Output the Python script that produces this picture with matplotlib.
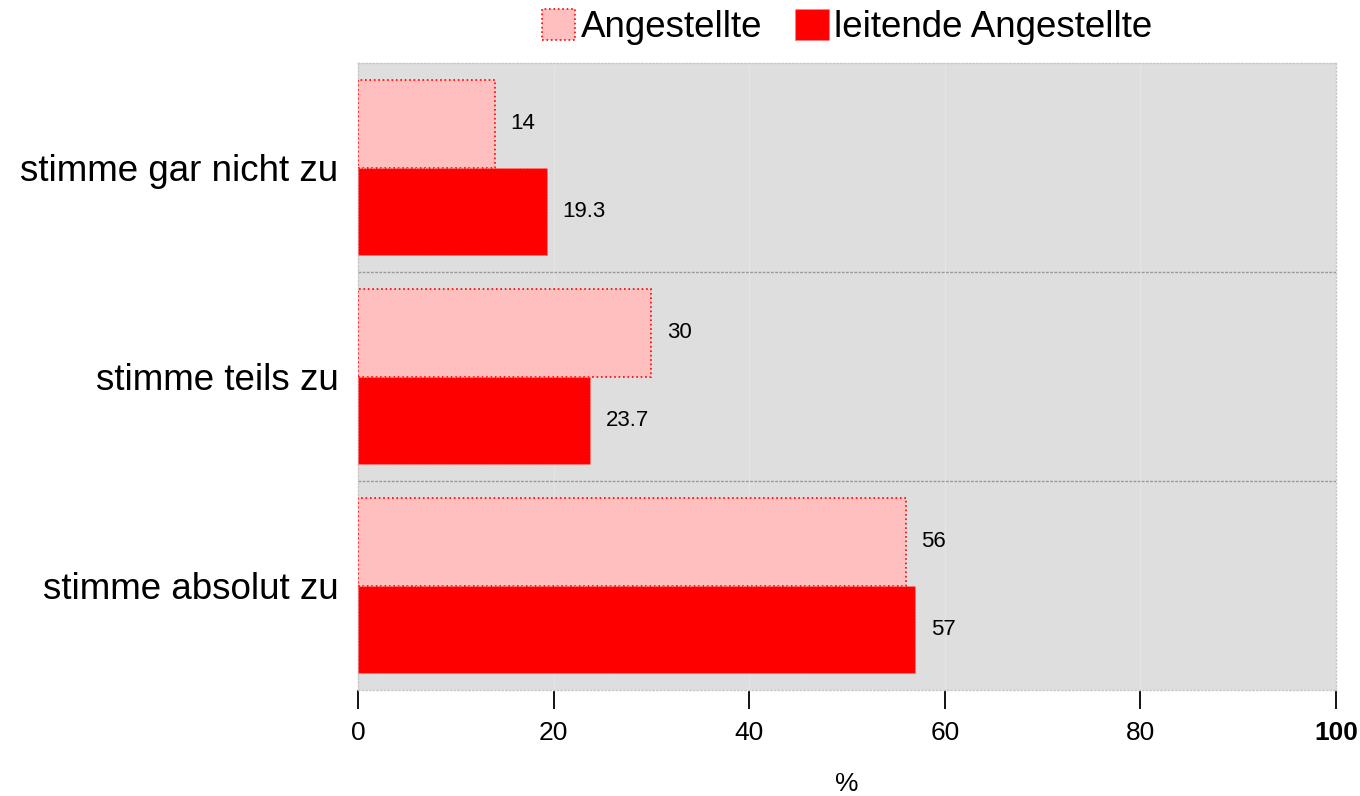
import numpy as np
import matplotlib.pyplot as plt

# data, bottom to top
categories = ["stimme absolut zu", "stimme teils zu", "stimme gar nicht zu"]
angestellte = [56, 30, 14]
leitende = [57, 23.7, 19.3]
angestellte_labels = ["56", "30", "14"]
leitende_labels = ["57", "23.7", "19.3"]
xticks = [0, 20, 40, 60, 80, 100]

plt.rcParams['font.family'] = ['Liberation Sans', 'DejaVu Sans']

fig = plt.figure(figsize=(13.6, 7.96), dpi=100)
ax = fig.add_axes([358 / 1360, 1 - 690 / 796, 978 / 1360, 627 / 796])
ax.set_facecolor("#dedede")

y = np.arange(len(categories))
h = 0.42
ax.barh(y + h / 2, angestellte, height=h, color="#ffbfbf", edgecolor="red",
        linestyle=":", linewidth=1.2, label="Angestellte", zorder=3)
ax.barh(y - h / 2, leitende, height=h, color="#ff0000", edgecolor="#ff8080",
        linestyle=":", linewidth=0.8, label="leitende Angestellte", zorder=3)

for yi, v, s in zip(y, angestellte, angestellte_labels):
    ax.text(v + 1.6, yi + h / 2, s, va="center", ha="left", fontsize=16)
for yi, v, s in zip(y, leitende, leitende_labels):
    ax.text(v + 1.6, yi - h / 2, s, va="center", ha="left", fontsize=16)

# separators between groups
for sep in [0.5, 1.5]:
    ax.axhline(sep, color="#999999", linestyle=(0, (2, 1)), linewidth=1.0, zorder=2)
for xt in xticks[1:-1]:
    ax.axvline(xt, color="#e4e4e4", linewidth=1.0, zorder=1)

ax.set_xlim(0, 100)
ax.set_ylim(-0.5, 2.5)
ax.set_yticks(y)
ax.set_yticklabels(categories, fontsize=26.5)
ax.tick_params(axis="y", length=0, pad=14)
ax.set_xticks(xticks)
ax.set_xticklabels([str(t) for t in xticks], fontsize=19)
ax.get_xticklabels()[-1].set_fontweight("bold")
ax.tick_params(axis="x", direction="out", length=14, width=1.3, pad=8, color="black")
for t in ax.xaxis.get_ticklines():
    t.set_linestyle((0, (2, 1)))
ax.set_xlabel("%", fontsize=19, labelpad=20)

for sp in ax.spines.values():
    sp.set_color("#c8c8c8")
    sp.set_linestyle(":")
    sp.set_linewidth(1.0)

handles, labels = ax.get_legend_handles_labels()
fig.legend(handles, labels, loc="center", bbox_to_anchor=(0.623, 1 - 27 / 796),
           ncol=2, frameon=False, fontsize=26.5, handlelength=0.9, handleheight=0.9,
           handletextpad=0.15, columnspacing=0.9, borderpad=0)

fig.savefig("out.png", dpi=100)
